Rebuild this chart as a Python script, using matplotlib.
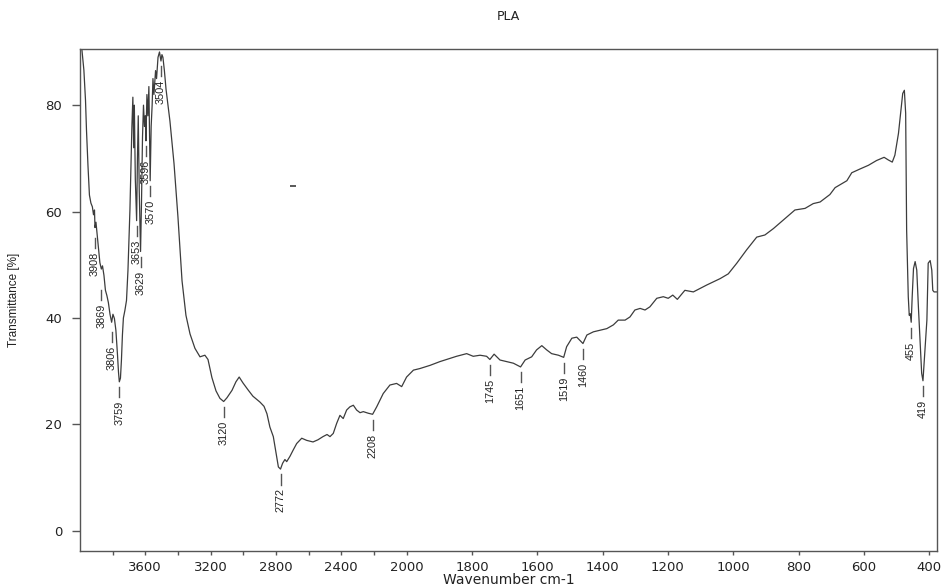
import numpy as np
import matplotlib.pyplot as plt

# FTIR spectrum of PLA, wavenumber in cm-1 (descending) and transmittance in %
wavenumber = [
    3998, 3994, 3988, 3976, 3966, 3960, 3951, 3942, 3933, 3924, 3917, 3911,
    3908, 3902, 3896, 3887, 3878, 3869, 3862, 3853, 3844, 3835, 3826, 3816,
    3806, 3798, 3789, 3780, 3770, 3764, 3759, 3752, 3746, 3740, 3734, 3725,
    3715, 3706, 3700, 3694, 3688, 3682, 3676, 3671, 3667, 3661, 3653, 3648,
    3643, 3637, 3629, 3623, 3617, 3611, 3605, 3600, 3596, 3590, 3584, 3578,
    3570, 3564, 3558, 3553, 3547, 3537, 3531, 3522, 3513, 3504, 3498, 3492,
    3483, 3473, 3449, 3424, 3400, 3375, 3351, 3326, 3296, 3265, 3235, 3216,
    3192, 3167, 3143, 3120, 3100, 3069, 3045, 3025, 3002, 2971, 2941, 2898,
    2873, 2855, 2837, 2816, 2796, 2785, 2772, 2759, 2745, 2734, 2714, 2694,
    2673, 2642, 2612, 2573, 2543, 2512, 2487, 2469, 2449, 2428, 2408, 2388,
    2367, 2347, 2326, 2306, 2285, 2265, 2235, 2208, 2183, 2143, 2102, 2061,
    2030, 2000, 1979, 1959, 1928, 1898, 1867, 1847, 1816, 1796, 1775, 1755,
    1745, 1732, 1714, 1693, 1673, 1651, 1637, 1617, 1602, 1586, 1571, 1556,
    1535, 1519, 1510, 1494, 1479, 1460, 1448, 1428, 1408, 1387, 1367, 1352,
    1331, 1316, 1301, 1285, 1270, 1255, 1234, 1214, 1199, 1185, 1171, 1148,
    1122, 1081, 1040, 1015, 989, 959, 928, 903, 877, 847, 811, 780,
    755, 734, 704, 688, 652, 637, 612, 586, 561, 538, 525, 513,
    505, 494, 487, 481, 476, 472, 469, 464, 461, 458, 455, 452,
    448, 443, 438, 433, 428, 423, 419, 414, 407, 405, 403, 397,
    392, 389, 385, 376,
]
transmittance = [
    92.5, 91.0, 90.4, 86.6, 80.9, 75.3, 68.7, 63.1, 61.6, 60.9, 59.4, 60.3,
    57.0, 58.0, 56.1, 53.1, 50.4, 49.2, 49.8, 48.0, 45.2, 44.2, 42.9, 40.7,
    39.2, 40.7, 39.9, 37.7, 33.0, 29.8, 28.0, 28.7, 32.1, 36.8, 40.0, 41.4,
    43.3, 49.0, 54.6, 60.3, 68.0, 76.0, 81.5, 72.0, 80.0, 66.0, 58.3, 70.0,
    78.0, 64.0, 52.5, 62.0, 74.0, 80.0, 76.0, 78.0, 73.3, 82.0, 78.0, 83.5,
    65.8, 76.0, 80.0, 85.0, 82.0, 86.5, 85.0, 89.0, 90.0, 88.3, 89.5, 89.0,
    86.5, 83.0, 77.0, 69.0, 59.0, 47.0, 40.5, 37.0, 34.3, 32.7, 33.0, 32.2,
    28.8, 26.3, 24.9, 24.3, 25.0, 26.4, 28.0, 28.9, 27.8, 26.5, 25.3, 24.2,
    23.4, 22.0, 19.5, 17.7, 14.0, 12.0, 11.6, 12.7, 13.4, 13.0, 14.0, 15.2,
    16.4, 17.4, 17.0, 16.7, 17.1, 17.7, 18.1, 17.7, 18.3, 20.2, 21.7, 21.1,
    22.7, 23.3, 23.6, 22.7, 22.2, 22.4, 22.1, 21.9, 23.3, 25.8, 27.4, 27.7,
    27.1, 28.9, 30.2, 30.5, 31.1, 31.8, 32.4, 32.8, 33.3, 32.8, 33.0, 32.8,
    32.2, 33.2, 32.1, 31.8, 31.5, 30.8, 32.1, 32.7, 34.0, 34.8, 34.0, 33.3,
    33.0, 32.6, 34.6, 36.2, 36.4, 35.2, 36.8, 37.4, 37.7, 38.0, 38.7, 39.6,
    39.6, 40.2, 41.5, 41.8, 41.5, 42.1, 43.7, 44.0, 43.7, 44.3, 43.5, 45.2,
    44.9, 46.2, 47.4, 48.3, 50.3, 52.8, 55.2, 55.6, 56.8, 58.4, 60.3, 60.6,
    61.5, 61.8, 63.2, 64.5, 65.8, 67.3, 68.0, 68.7, 69.6, 70.2, 69.7, 69.3,
    70.6, 74.7, 78.8, 82.2, 82.8, 78.5, 56.5, 44.0, 40.5, 40.8, 39.2, 44.0,
    49.3, 50.6, 49.0, 42.1, 35.8, 29.6, 28.2, 33.0, 39.6, 44.7, 50.3, 50.8,
    49.0, 45.2, 44.9, 44.9,
]

# picked peaks and how far each label is pushed down to stay clear of its neighbours
peak_wn = [3908, 3869, 3806, 3759, 3653, 3629, 3596, 3570, 3504,
           3120, 2772, 2208, 1745, 1651, 1519, 1460, 455, 419]
peak_shift = [1.0, 3.0, 0.8, 0.0, 0.0, 0.0, 0.0, 0.0, 0.0,
              0.0, 0.0, 0.0, 0.0, 0.0, 0.0, 0.0, 0.0, 0.0]

tick_wn = [3800, 3600, 3400, 3200, 3000, 2800, 2600, 2400, 2200, 2000,
           1800, 1600, 1400, 1200, 1000, 800, 600, 400]
tick_text = ["", "3600", "", "3200", "", "2800", "", "2400", "", "2000",
             "1800", "1600", "1400", "1200", "1000", "800", "600", "400"]

stray_wn = [2696]
stray_t = [64.8]

LABEL_FONT = ["Liberation Sans", "DejaVu Sans"]
INK = "#3c3c3c"


def half_above_2000(w):
    w = np.asarray(w, dtype=float)
    return np.where(w > 2000, 2000 + (w - 2000) / 2.0, w)


def double_above_2000(u):
    u = np.asarray(u, dtype=float)
    return np.where(u > 2000, 2000 + (u - 2000) * 2.0, u)


def plot_spectrum():
    fig = plt.figure(figsize=(9.44, 5.87), dpi=100)
    ax = fig.add_axes([0.0847, 0.0613, 0.9079, 0.8547])

    ax.set_xscale("function", functions=(half_above_2000, double_above_2000))
    ax.plot(wavenumber, transmittance, color=INK, lw=0.9)
    ax.plot(stray_wn, stray_t, ls="none", marker="_", ms=4, mew=1.2, color=INK)

    # peak picks: short dash under the minimum, rotated value under the dash
    wn_up = np.array(wavenumber[::-1], dtype=float)
    t_up = np.array(transmittance[::-1], dtype=float)
    for w, shift in zip(peak_wn, peak_shift):
        t = np.interp(w, wn_up, t_up)
        top = t - 1.0 - shift
        ax.plot([w, w], [top, top - 1.9], color="#555555", lw=1.0)
        ax.text(w, top - 2.6, str(w), rotation=90, ha="center", va="top",
                fontsize=7.8, family=LABEL_FONT, color="#222222")

    ax.set_xlim(4000, 376)
    ax.set_ylim(-3.8, 90.5)
    ax.set_xticks(tick_wn)
    ax.set_xticklabels(tick_text)
    ax.minorticks_off()
    ax.set_yticks([0, 20, 40, 60, 80])

    for side in ax.spines.values():
        side.set_color("#555555")
        side.set_linewidth(1.0)
    ax.tick_params(axis="both", direction="out", colors="#555555",
                   labelcolor="#222222", labelsize=9.5, width=1.0)
    ax.tick_params(axis="y", length=5.8, pad=7)
    ax.tick_params(axis="x", length=3.0, pad=4.5)

    ax.set_title("PLA", fontsize=9, pad=21, color="#222222")
    ax.set_xlabel("Wavenumber cm-1", fontsize=10, color="#222222")
    ax.xaxis.set_label_coords(0.5, -0.044)
    ax.set_ylabel("Transmittance [%]", fontsize=8.5, family=LABEL_FONT,
                  color="#222222")
    ax.yaxis.set_label_coords(-0.070, 0.5)

    fig.savefig("out.png", dpi=100)


def main():
    plot_spectrum()


if __name__ == "__main__":
    main()
